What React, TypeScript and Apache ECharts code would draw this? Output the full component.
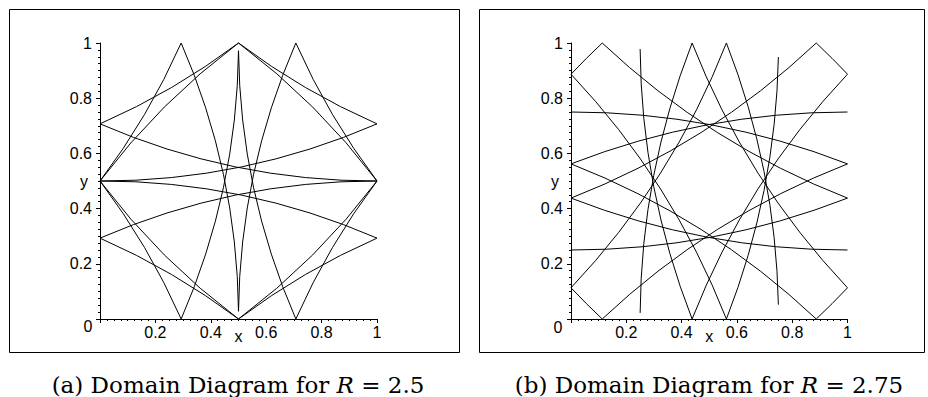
import React, { useEffect, useRef } from "react";
import * as echarts from "echarts";

// Radii given in the captions
const R_A = 2.5;
const R_B = 2.75;

// Each arc: [x1, y1, x2, y2, cx, cy] -> end points, (cx, cy) centre of its circle
const arcsA = [
  [0.5, 0.028, 0.293, 1, -2, 0],
  [0.5, 0.028, 0.707, 1, 3, 0],
  [0.5, 0.972, 0.293, 0, -2, 1],
  [0.5, 0.972, 0.707, 0, 3, 1],
  [0, 0.5, 1, 0.293, 0, -2],
  [1, 0.5, 0, 0.293, 1, -2],
  [0, 0.5, 1, 0.707, 0, 3],
  [1, 0.5, 0, 0.707, 1, 3],
  [0.5, 1, 1, 0.5, -1, -1],
  [0, 0.5, 0.5, 1, 2, -1],
  [0.5, 0, 1, 0.5, -1, 2],
  [0, 0.5, 0.5, 0, 2, 2],
  [0, 0.293, 0.5, 0, -1, -2],
  [0, 0.5, 0.293, 0, -2, -1],
  [1, 0.293, 0.5, 0, 2, -2],
  [1, 0.5, 0.707, 0, 3, -1],
  [0, 0.707, 0.5, 1, -1, 3],
  [0, 0.5, 0.293, 1, -2, 2],
  [1, 0.707, 0.5, 1, 2, 3],
  [1, 0.5, 0.707, 1, 3, 2],
];

const arcsB = [
  [0.75, 0.052, 0.562, 1, -2, 0],
  [0.75, 0.949, 0.562, 0, -2, 1],
  [0.25, 0.022, 0.438, 1, 3, 0],
  [0.25, 0.978, 0.438, 0, 3, 1],
  [0, 0.75, 1, 0.562, 0, -2],
  [0, 0.562, 1, 0.75, 1, -2],
  [0, 0.25, 1, 0.438, 0, 3],
  [0, 0.438, 1, 0.25, 1, 3],
  [0.887, 1, 1, 0.887, -1, -1],
  [0, 0.887, 0.113, 1, 2, -1],
  [0.887, 0, 1, 0.113, -1, 2],
  [0, 0.113, 0.113, 0, 2, 2],
  [0, 0.562, 0.887, 0, -1, -2],
  [0, 0.887, 0.562, 0, -2, -1],
  [1, 0.562, 0.113, 0, 2, -2],
  [1, 0.887, 0.438, 0, 3, -1],
  [0, 0.438, 0.887, 1, -1, 3],
  [0, 0.113, 0.562, 1, -2, 2],
  [1, 0.438, 0.113, 1, 2, 3],
  [1, 0.113, 0.438, 1, 3, 2],
];

const tickInterval = 0.2;
const minorSplit = 8;
const captionA = ["(a) Domain Diagram for ", "R", " = 2.5"];
const captionB = ["(b) Domain Diagram for ", "R", " = 2.75"];

const SANS = "'Liberation Sans', Arial, sans-serif";
const SERIF = "'DejaVu Serif', serif";

function makeRender(R: number) {
  return (params: any, api: any) => {
    const p1 = api.coord([api.value(0), api.value(1)]);
    const p2 = api.coord([api.value(2), api.value(3)]);
    const c = api.coord([api.value(4), api.value(5)]);
    const sz = api.size([R, R]);
    const r = (sz[0] + sz[1]) / 2;
    const cross = (p1[0] - c[0]) * (p2[1] - c[1]) - (p1[1] - c[1]) * (p2[0] - c[0]);
    const sweep = cross > 0 ? 1 : 0;
    return {
      type: "path",
      shape: {
        pathData: `M${p1[0]} ${p1[1]} A${r} ${r} 0 0 ${sweep} ${p2[0]} ${p2[1]}`,
      },
      style: { fill: "none", stroke: "#000", lineWidth: 1 },
      silent: true,
    };
  };
}

function xAxisOf(gridIndex: number) {
  return {
    gridIndex,
    type: "value",
    min: 0,
    max: 1,
    interval: tickInterval,
    name: "x",
    nameLocation: "middle",
    nameGap: 9,
    nameMoveOverlap: false,
    nameTextStyle: { color: "#000", fontSize: 16, fontFamily: SANS },
    axisLine: { onZero: false, lineStyle: { color: "#000", width: 1 } },
    axisTick: { show: true, length: 4, lineStyle: { color: "#000", width: 1 } },
    minorTick: { show: true, splitNumber: minorSplit, length: 2, lineStyle: { color: "#000", width: 1 } },
    splitLine: { show: false },
    axisLabel: {
      color: "#000",
      fontSize: 16,
      fontFamily: SANS,
      margin: 5,
      hideOverlap: false,
      formatter: (v: number) => (v === 0 ? "" : String(v)),
    },
  };
}

function yAxisOf(gridIndex: number) {
  return {
    gridIndex,
    type: "value",
    min: 0,
    max: 1,
    interval: tickInterval,
    name: "y",
    nameLocation: "middle",
    nameRotate: 0,
    nameGap: 12,
    nameMoveOverlap: false,
    nameTextStyle: { color: "#000", fontSize: 16, fontFamily: SANS },
    axisLine: { onZero: false, lineStyle: { color: "#000", width: 1 } },
    axisTick: { show: true, length: 4, lineStyle: { color: "#000", width: 1 } },
    minorTick: { show: true, splitNumber: minorSplit, length: 2, lineStyle: { color: "#000", width: 1 } },
    splitLine: { show: false },
    axisLabel: {
      color: "#000",
      fontSize: 16,
      fontFamily: SANS,
      margin: 8,
      hideOverlap: false,
      formatter: (v: number) => (v === 0 ? "" : String(v)),
    },
  };
}

function caption(parts: string[], cx: number, cy: number) {
  return {
    type: "text",
    x: cx,
    y: cy,
    silent: true,
    style: {
      text: `{n|${parts[0]}}{i|${parts[1]}}{n|${parts[2]}}`,
      align: "center",
      verticalAlign: "middle",
      rich: {
        n: { fontFamily: SERIF, fontSize: 23, fill: "#000", color: "#000" },
        i: { fontFamily: SERIF, fontSize: 23, fontStyle: "italic", fill: "#000", color: "#000" },
      },
    },
  };
}

export default function App() {
  const ref = useRef<HTMLDivElement>(null);
  useEffect(() => {
    if (!ref.current) return;
    const chart = echarts.init(ref.current, null, { renderer: "svg" });
    chart.setOption({
      animation: false,
      backgroundColor: "#fff",
      grid: [
        { left: 100, top: 43, width: 277, height: 276 },
        { left: 571, top: 43, width: 276.5, height: 276 },
      ],
      xAxis: [xAxisOf(0), xAxisOf(1)],
      yAxis: [yAxisOf(0), yAxisOf(1)],
      series: [
        {
          type: "custom",
          xAxisIndex: 0,
          yAxisIndex: 0,
          data: arcsA,
          renderItem: makeRender(R_A),
          silent: true,
        },
        {
          type: "custom",
          xAxisIndex: 1,
          yAxisIndex: 1,
          data: arcsB,
          renderItem: makeRender(R_B),
          silent: true,
        },
      ],
      graphic: [
        {
          type: "rect",
          shape: { x: 9.5, y: 9.5, width: 450, height: 343 },
          style: { fill: "none", stroke: "#000", lineWidth: 1 },
          silent: true,
        },
        {
          type: "rect",
          shape: { x: 479.5, y: 9.5, width: 445, height: 343 },
          style: { fill: "none", stroke: "#000", lineWidth: 1 },
          silent: true,
        },
        {
          type: "text",
          x: 88,
          y: 326,
          silent: true,
          style: { text: "0", fontFamily: SANS, fontSize: 16, fill: "#000", align: "center", verticalAlign: "middle" },
        },
        {
          type: "text",
          x: 558,
          y: 327,
          silent: true,
          style: { text: "0", fontFamily: SANS, fontSize: 16, fill: "#000", align: "center", verticalAlign: "middle" },
        },
        caption(captionA, 238, 385),
        caption(captionB, 709, 385),
      ],
    });
    return () => chart.dispose();
  }, []);
  return (
    <div
      ref={ref}
      style={{ position: "fixed", left: 0, top: 0, width: 928, height: 397, background: "#fff" }}
    />
  );
}
